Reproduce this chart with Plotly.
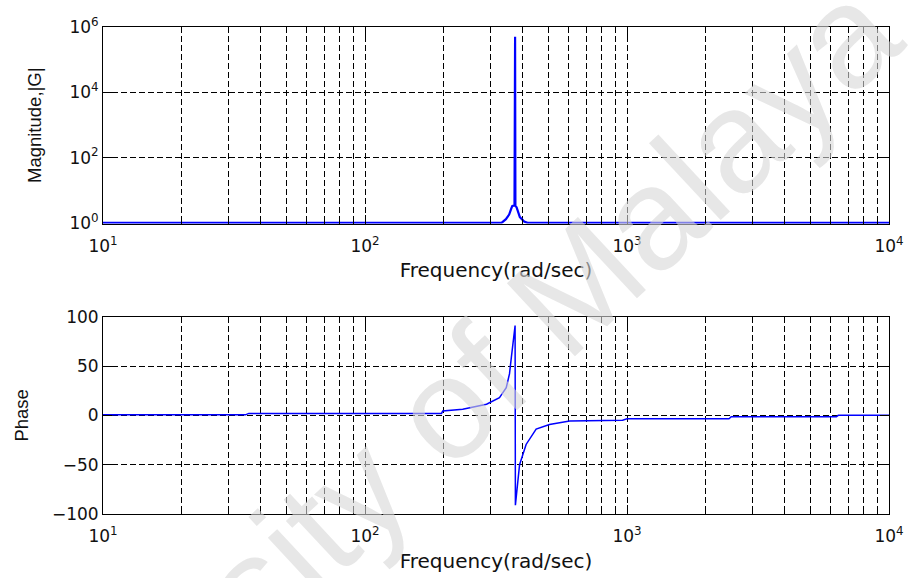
import plotly.graph_objects as go

# ---------------- data ----------------
freq_mag = [10, 200, 332, 345, 355, 362, 365, 372, 373, 374, 375, 379, 390, 405, 417, 1000, 10000]
magnitude = [1.0, 1.0, 1.0, 1.3, 1.8, 2.8, 3.3, 3.4, 78, 5.0e5, 3.3, 3.0, 1.5, 1.1, 1.0, 1.0, 1.0]

freq_ph = [10, 35, 36, 196, 198, 236, 291, 326, 346, 356, 362, 368, 374, 375, 383, 389,
           412, 450, 506, 604, 962, 1000, 2450, 2500, 6300, 6400, 10000]
phase = [0.5, 0.5, 2, 2, 4.4, 6.2, 11.3, 18, 28, 42, 59, 75, 91, -91, -67, -50,
         -29.5, -14, -9.2, -5.8, -5, -3.4, -3.4, -1.4, -1.4, 0, 0]

x_tickvals = [10, 100, 1000, 10000]
x_ticktext = ["10<sup>1</sup>", "10<sup>2</sup>", "10<sup>3</sup>", "10<sup>4</sup>"]
mag_tickvals = [1, 100, 1e4, 1e6]
mag_ticktext = ["10<sup>0</sup>", "10<sup>2</sup>", "10<sup>4</sup>", "10<sup>6</sup>"]
ph_tickvals = [-100, -50, 0, 50, 100]

# ---------------- figure ----------------
fig = go.Figure()
fig.add_trace(go.Scatter(x=freq_mag, y=magnitude, mode="lines",
                         line=dict(color="#0000ff", width=2.2), xaxis="x", yaxis="y",
                         showlegend=False))
fig.add_trace(go.Scatter(x=freq_ph, y=phase, mode="lines",
                         line=dict(color="#0000ff", width=1.5), xaxis="x2", yaxis="y2",
                         showlegend=False))

TXT = "#111111"
tickfont = dict(family="DejaVu Sans", size=17, color=TXT)
grid_dash = "6px,3px"

def xaxis_common(domain_anchor):
    return dict(
        type="log", range=[1, 4], anchor=domain_anchor, automargin=False,
        tickmode="array", tickvals=x_tickvals, ticktext=x_ticktext,
        tickfont=tickfont, ticks="inside", ticklen=9, tickcolor="black", tickwidth=1,
        ticklabelstandoff=7,
        showline=True, linecolor="black", linewidth=1, mirror="ticks",
        showgrid=True, gridcolor="black", gridwidth=1, griddash=grid_dash,
        minor=dict(dtick="D1", showgrid=True, gridcolor="black", gridwidth=1,
                   griddash=grid_dash, ticks="inside", ticklen=5, tickcolor="black"),
        zeroline=False,
        title=dict(text="Frequency(rad/sec)", font=dict(family="DejaVu Sans", size=20, color=TXT),
                   standoff=8),
    )

fig.update_layout(
    width=908, height=578,
    margin=dict(l=103, r=19, t=27, b=64, autoexpand=False),
    paper_bgcolor="white", plot_bgcolor="white",
    xaxis=dict(domain=[0, 1], **xaxis_common("y")),
    yaxis=dict(
        domain=[0.5965, 1], type="log", range=[-0.02, 6], anchor="x", automargin=False,
        tickmode="array", tickvals=mag_tickvals, ticktext=mag_ticktext,
        tickfont=tickfont, ticks="inside", ticklen=9, tickcolor="black",
        showline=True, linecolor="black", linewidth=1, mirror="ticks",
        showgrid=True, gridcolor="black", gridwidth=1, griddash=grid_dash,
        zeroline=False,
        title=dict(text="Magnitude,|G|", font=dict(family="Liberation Sans", size=18.5, color=TXT),
                   standoff=22),
    ),
    xaxis2=dict(domain=[0, 1], **xaxis_common("y2")),
    yaxis2=dict(
        domain=[0, 0.4051], range=[-100, 100], anchor="x2", automargin=False,
        tickmode="array", tickvals=ph_tickvals,
        tickfont=tickfont, ticks="inside", ticklen=9, tickcolor="black",
        showline=True, linecolor="black", linewidth=1, mirror="ticks",
        showgrid=True, gridcolor="black", gridwidth=1, griddash=grid_dash,
        zeroline=False,
        title=dict(text="Phase", font=dict(family="Liberation Sans", size=18.5, color=TXT),
                   standoff=18),
    ),
)

# faint diagonal watermark seen on the page
fig.add_annotation(
    text="University of Malaya", xref="paper", yref="paper",
    x=0.3736, y=0.1232, xanchor="center", yanchor="middle",
    textangle=-43, showarrow=False,
    font=dict(family="Liberation Sans", size=145, color="rgba(215,215,215,0.6)"),
)

fig.write_html("out.html")
